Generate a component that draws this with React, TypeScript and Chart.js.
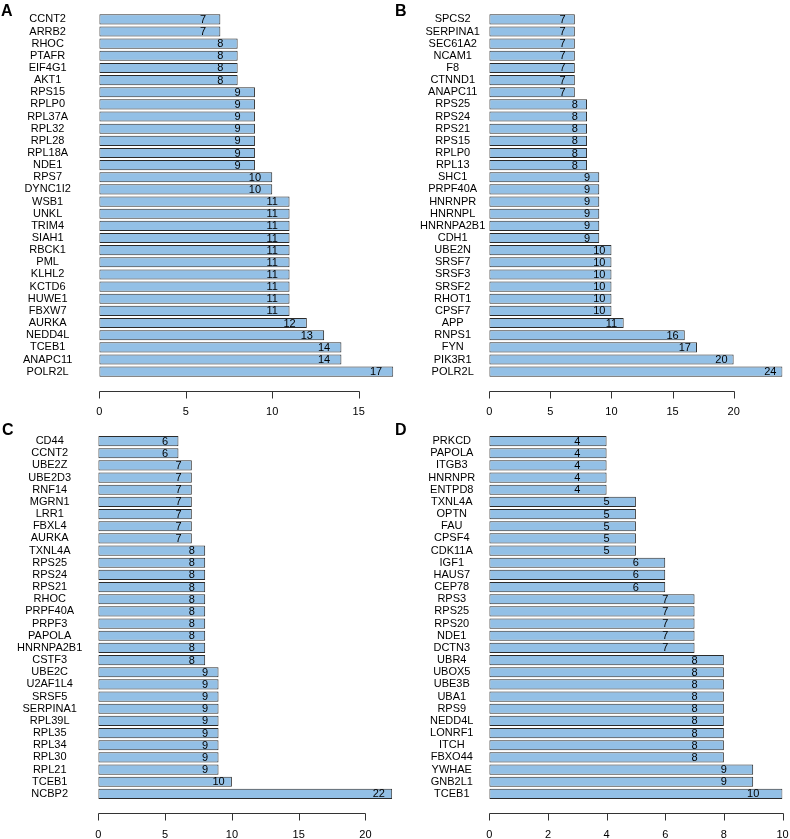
import React, { useEffect, useRef } from "react";
import { Chart, registerables } from "chart.js";

Chart.register(...registerables);

const FONT = '"Liberation Sans", Arial, Helvetica, sans-serif';
const BAR_FILL = "#93C0E6";
const BAR_EDGE = "#2b2b2b";
const INK = "#000000";

// Panel A
const genesA = ["CCNT2", "ARRB2", "RHOC", "PTAFR", "EIF4G1", "AKT1", "RPS15", "RPLP0", "RPL37A", "RPL32", "RPL28", "RPL18A", "NDE1", "RPS7", "DYNC1I2", "WSB1", "UNKL", "TRIM4", "SIAH1", "RBCK1", "PML", "KLHL2", "KCTD6", "HUWE1", "FBXW7", "AURKA", "NEDD4L", "TCEB1", "ANAPC11", "POLR2L"];
const countsA = [7, 7, 8, 8, 8, 8, 9, 9, 9, 9, 9, 9, 9, 10, 10, 11, 11, 11, 11, 11, 11, 11, 11, 11, 11, 12, 13, 14, 14, 17];
const ticksA = [0, 5, 10, 15];
const maxA = 17;

// Panel B
const genesB = ["SPCS2", "SERPINA1", "SEC61A2", "NCAM1", "F8", "CTNND1", "ANAPC11", "RPS25", "RPS24", "RPS21", "RPS15", "RPLP0", "RPL13", "SHC1", "PRPF40A", "HNRNPR", "HNRNPL", "HNRNPA2B1", "CDH1", "UBE2N", "SRSF7", "SRSF3", "SRSF2", "RHOT1", "CPSF7", "APP", "RNPS1", "FYN", "PIK3R1", "POLR2L"];
const countsB = [7, 7, 7, 7, 7, 7, 7, 8, 8, 8, 8, 8, 8, 9, 9, 9, 9, 9, 9, 10, 10, 10, 10, 10, 10, 11, 16, 17, 20, 24];
const ticksB = [0, 5, 10, 15, 20];
const maxB = 24;

// Panel C
const genesC = ["CD44", "CCNT2", "UBE2Z", "UBE2D3", "RNF14", "MGRN1", "LRR1", "FBXL4", "AURKA", "TXNL4A", "RPS25", "RPS24", "RPS21", "RHOC", "PRPF40A", "PRPF3", "PAPOLA", "HNRNPA2B1", "CSTF3", "UBE2C", "U2AF1L4", "SRSF5", "SERPINA1", "RPL39L", "RPL35", "RPL34", "RPL30", "RPL21", "TCEB1", "NCBP2"];
const countsC = [6, 6, 7, 7, 7, 7, 7, 7, 7, 8, 8, 8, 8, 8, 8, 8, 8, 8, 8, 9, 9, 9, 9, 9, 9, 9, 9, 9, 10, 22];
const ticksC = [0, 5, 10, 15, 20];
const maxC = 22;

// Panel D
const genesD = ["PRKCD", "PAPOLA", "ITGB3", "HNRNPR", "ENTPD8", "TXNL4A", "OPTN", "FAU", "CPSF4", "CDK11A", "IGF1", "HAUS7", "CEP78", "RPS3", "RPS25", "RPS20", "NDE1", "DCTN3", "UBR4", "UBOX5", "UBE3B", "UBA1", "RPS9", "NEDD4L", "LONRF1", "ITCH", "FBXO44", "YWHAE", "GNB2L1", "TCEB1"];
const countsD = [4, 4, 4, 4, 4, 5, 5, 5, 5, 5, 6, 6, 6, 7, 7, 7, 7, 7, 8, 8, 8, 8, 8, 8, 8, 8, 8, 9, 9, 10];
const ticksD = [0, 2, 4, 6, 8, 10];
const maxD = 10;

const decoPlugin = {
  id: "panelDeco",
  afterDatasetsDraw(chart: any, _args: any, opts: any) {
    const ctx = chart.ctx as CanvasRenderingContext2D;
    const xs = chart.scales.x;
    const ys = chart.scales.y;
    const data = chart.data.datasets[0].data as number[];
    ctx.save();
    // value labels inside bars
    ctx.font = `11px ${FONT}`;
    ctx.fillStyle = INK;
    ctx.textAlign = "center";
    ctx.textBaseline = "middle";
    data.forEach((v, i) => {
      ctx.fillText(String(v), xs.getPixelForValue(v - 1), ys.getPixelForValue(i) + 0.5);
    });
    // R-style x axis, detached below the bars
    const axisY = Math.round(chart.chartArea.bottom + opts.axisGap) + 0.5;
    const tv = xs.ticks.map((t: any) => t.value);
    const x0 = Math.round(xs.getPixelForValue(tv[0])) + 0.5;
    const x1 = Math.round(xs.getPixelForValue(tv[tv.length - 1])) + 0.5;
    ctx.strokeStyle = "#333333";
    ctx.lineWidth = 1;
    ctx.beginPath();
    ctx.moveTo(x0, axisY);
    ctx.lineTo(x1, axisY);
    tv.forEach((t: number) => {
      const px = Math.round(xs.getPixelForValue(t)) + 0.5;
      ctx.moveTo(px, axisY);
      ctx.lineTo(px, axisY + 7);
    });
    ctx.stroke();
    // panel letter
    ctx.font = `bold 16px ${FONT}`;
    ctx.textAlign = "left";
    ctx.textBaseline = "alphabetic";
    ctx.fillText(opts.letter, opts.letterX, opts.letterY);
    ctx.restore();
  },
};

type PanelProps = {
  letter: string;
  labels: string[];
  values: number[];
  ticks: number[];
  max: number;
  left: number;
  top: number;
  width: number;
  height: number;
  axisWidth: number;
  labelPad: number;
  padTop: number;
  padRight: number;
  xHeight: number;
  axisGap: number;
  letterX: number;
  letterY: number;
};

function Panel(p: PanelProps) {
  const ref = useRef<HTMLCanvasElement>(null);
  useEffect(() => {
    const chart = new Chart(ref.current as HTMLCanvasElement, {
      type: "bar",
      data: {
        labels: p.labels,
        datasets: [
          {
            data: p.values,
            backgroundColor: BAR_FILL,
            borderColor: BAR_EDGE,
            borderWidth: 1,
            borderSkipped: false,
            barPercentage: 0.833,
            categoryPercentage: 1,
          },
        ],
      },
      options: {
        indexAxis: "y",
        responsive: false,
        animation: false,
        devicePixelRatio: 1,
        layout: { padding: { top: p.padTop, right: p.padRight, left: 0, bottom: 0 } },
        plugins: {
          legend: { display: false },
          tooltip: { enabled: false },
          panelDeco: { letter: p.letter, axisGap: p.axisGap, letterX: p.letterX, letterY: p.letterY },
        } as any,
        scales: {
          x: {
            type: "linear",
            min: 0,
            max: p.max,
            grid: { display: false, drawTicks: false },
            border: { display: false },
            ticks: {
              font: { family: FONT, size: 11 },
              color: INK,
              padding: 28,
              autoSkip: false,
              maxRotation: 0,
            },
            afterBuildTicks: (s: any) => {
              s.ticks = p.ticks.map((v) => ({ value: v }));
            },
            afterFit: (s: any) => {
              s.height = p.xHeight;
              s.paddingLeft = 0;
              s.paddingRight = 0;
            },
          },
          y: {
            type: "category",
            offset: true,
            grid: { display: false, drawTicks: false },
            border: { display: false },
            ticks: {
              font: { family: FONT, size: 11 },
              color: INK,
              padding: p.labelPad,
              crossAlign: "center",
              autoSkip: false,
            },
            afterFit: (s: any) => {
              s.width = p.axisWidth;
              s.paddingTop = 0;
              s.paddingBottom = 0;
            },
          },
        },
      } as any,
      plugins: [decoPlugin],
    });
    return () => chart.destroy();
  }, []);
  return (
    <canvas
      ref={ref}
      width={p.width}
      height={p.height}
      style={{ position: "absolute", left: p.left, top: p.top, width: p.width, height: p.height }}
    />
  );
}

export default function App() {
  return (
    <div
      style={{
        position: "absolute",
        left: 0,
        top: 0,
        width: 790,
        height: 839,
        background: "#ffffff",
        overflow: "hidden",
      }}
    >
      <Panel letter="A" labels={genesA} values={countsA} ticks={ticksA} max={maxA}
        left={0} top={0} width={395} height={420}
        axisWidth={99.3} labelPad={27} padTop={13.3} padRight={1.7} xHeight={42.3} axisGap={13.3}
        letterX={1} letterY={16} />
      <Panel letter="B" labels={genesB} values={countsB} ticks={ticksB} max={maxB}
        left={395} top={0} width={395} height={420}
        axisWidth={94.3} labelPad={4} padTop={13.3} padRight={7.5} xHeight={42.3} axisGap={13.3}
        letterX={0} letterY={16} />
      <Panel letter="C" labels={genesC} values={countsC} ticks={ticksC} max={maxC}
        left={0} top={420} width={395} height={419}
        axisWidth={98.3} labelPad={16} padTop={15} padRight={2.8} xHeight={39} axisGap={13}
        letterX={2} letterY={15} />
      <Panel letter="D" labels={genesD} values={countsD} ticks={ticksD} max={maxD}
        left={395} top={420} width={395} height={419}
        axisWidth={94.3} labelPad={14} padTop={15} padRight={7.5} xHeight={39} axisGap={13}
        letterX={0} letterY={15} />
    </div>
  );
}
